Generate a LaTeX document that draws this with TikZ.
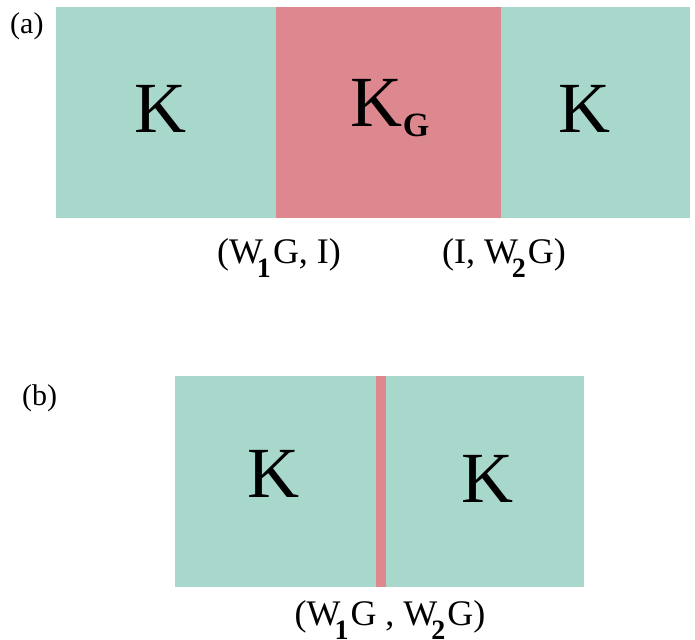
\documentclass[tikz,border=0pt]{standalone}
\usepackage{fontspec}
\setmainfont{Liberation Serif}
\definecolor{kgreen}{RGB}{168,216,204}
\definecolor{kpink}{RGB}{221,136,142}
\newcommand{\Wsub}[1]{W\kern-6pt\raisebox{-14pt}{\fontsize{28}{28}\selectfont\bfseries #1}\kern2pt}
\begin{document}
\begin{tikzpicture}[x=1pt,y=-1pt,
  bigK/.style={font=\fontsize{72}{72}\selectfont, anchor=base, inner sep=0pt},
  lbl/.style={font=\fontsize{36}{36}\selectfont, anchor=base, inner sep=0pt},
  tag/.style={font=\fontsize{30}{30}\selectfont, anchor=base west, inner sep=0pt}]
\useasboundingbox (0,0) rectangle (695,639);
% (a)
\fill[kgreen] (56,7) rectangle (276,218);
\fill[kpink] (276,7) rectangle (501,218);
\fill[kgreen] (501,7) rectangle (690,218);
\node[tag] (ta) at (10,34) {(a)};
\node[bigK] (k1) at (160,133) {K};
\node[bigK] (k2) at (390,127) {K\raisebox{-10pt}{\fontsize{34}{34}\selectfont\bfseries G}};
\node[bigK] (k3) at (584,133) {K};
\node[lbl] (l1) at (279,263) {(\Wsub{1}G, I)};
\node[lbl] (l2) at (504,263) {(I, \Wsub{2}G)};
% (b)
\fill[kgreen] (175,376) rectangle (584,587);
\fill[kpink] (376,376) rectangle (386,587);
\node[tag] (tb) at (22,405) {(b)};
\node[bigK] (k4) at (273,497) {K};
\node[bigK] (k5) at (487,502) {K};
\node[lbl] (l3) at (390,625) {(\Wsub{1}G , \Wsub{2}G)};
\end{tikzpicture}
\end{document}
